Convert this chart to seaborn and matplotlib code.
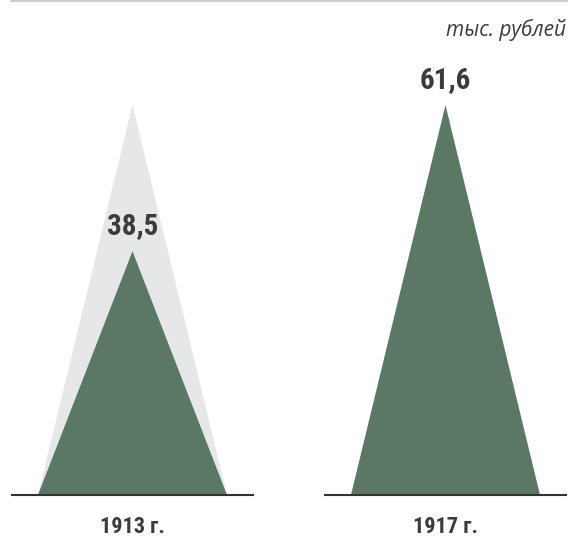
import matplotlib
matplotlib.use("Agg")
import matplotlib.pyplot as plt
import seaborn as sns

# --- Data ---
years = ["1913 г.", "1917 г."]
values = [38.5, 61.6]
value_labels = ["38,5", "61,6"]
unit_label = "тыс. рублей"

GREEN = "#5b7765"
SHADOW = "#e6e7e9"
TEXT = "#3b3b3b"

sns.set_theme(style="white")
plt.rcParams["font.family"] = ["Roboto Condensed", "DejaVu Sans"]

fig = plt.figure(figsize=(5.68, 5.37), dpi=100)
ax = fig.add_axes([0, 0, 1, 1])

half_w = 0.302      # half width of each peak (category units)
base_half = 0.387   # half length of baseline under each peak
peak_max = max(values)

for i, (year, v, lab) in enumerate(zip(years, values, value_labels)):
    # grey shadow of the largest value behind the smaller peaks
    if v < peak_max:
        ax.fill([i - half_w, i, i + half_w], [0, peak_max, 0], color=SHADOW, lw=0, zorder=1)
    ax.fill([i - half_w, i, i + half_w], [0, v, 0], color=GREEN, lw=0, zorder=2)
    ax.hlines(0, i - base_half, i + base_half, color="#333333", lw=1.5, zorder=3)
    ax.text(i, v + 2.7, lab, ha="center", va="baseline", fontsize=21,
            fontweight="bold", fontstretch="condensed", color=TEXT, zorder=4)
    ax.text(i, -6.0, year, ha="center", va="baseline", fontsize=16,
            fontweight="bold", fontstretch="condensed", color=TEXT)

ax.set_xlim(-0.4233, 1.3914)
ax.set_ylim(-6.634, 78.19)
ax.axis("off")

# thin rule at the top and the unit label
ax.plot([11 / 568, 1], [0.998, 0.998], transform=ax.transAxes, color="#cccccc", lw=1.5)
ax.text(566 / 568, (537 - 36) / 537, unit_label, transform=ax.transAxes, ha="right",
        va="baseline", fontsize=15, fontstyle="italic", color=TEXT,
        family=["Open Sans", "DejaVu Sans"])

fig.savefig("out.png", dpi=100)
